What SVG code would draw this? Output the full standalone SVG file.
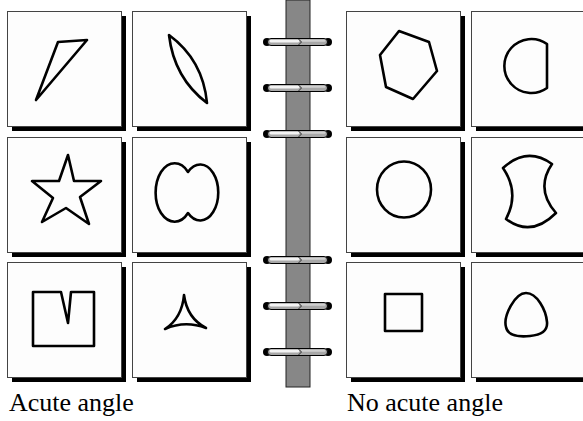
<svg xmlns="http://www.w3.org/2000/svg" width="583" height="421" viewBox="0 0 583 421">
<defs>
<style>
.shadow{fill:#000}
.card{fill:#fdfdfd;stroke:#444;stroke-width:1}
.fig{fill:none;stroke:#000;stroke-width:2.6;stroke-linejoin:round;stroke-linecap:round}
.lbl{font-family:"Liberation Serif","Times New Roman",serif;font-size:26px;fill:#000}
</style>
<g id="ring">
<circle cx="-30.5" cy="0" r="4" fill="#000"/>
<circle cx="30.5" cy="0" r="4" fill="#000"/>
<rect x="-30" y="-3.5" width="60" height="7" rx="3.5" fill="#a8a8a8" stroke="#000" stroke-width="1"/>
<rect x="-28" y="-2.3" width="30" height="2.8" rx="1.4" fill="#f4f4f4"/>
<rect x="3" y="-2.3" width="25" height="2" rx="1" fill="#d0d0d0"/>
<path d="M1,-3 L4,0 L1,3" fill="none" stroke="#333" stroke-width="1"/>
</g>
</defs>
<rect width="583" height="421" fill="#fff"/>

<g id="spine">
<rect x="286" y="0" width="24" height="387" fill="#878787" stroke="#222" stroke-width="1"/>
</g>

<g id="connectors">
<use href="#ring" x="297.5" y="42"/>
<use href="#ring" x="297.5" y="88"/>
<use href="#ring" x="297.5" y="134"/>
<use href="#ring" x="297.5" y="260"/>
<use href="#ring" x="297.5" y="306"/>
<use href="#ring" x="297.5" y="352"/>
</g>

<g id="p-triangle">
<rect class="shadow" x="12" y="16" width="114" height="115"/>
<rect class="card" x="7.5" y="11.5" width="114" height="115"/>
<path class="fig" d="M36,100 L58,42 L87,40 Z"/>
</g>
<g id="p-lens">
<rect class="shadow" x="137" y="16" width="114" height="115"/>
<rect class="card" x="132.5" y="11.5" width="114" height="115"/>
<path class="fig" d="M169,35 Q174,78 207,103 Q203,60 169,35 Z"/>
</g>
<g id="p-hexagon">
<rect class="shadow" x="351" y="16" width="114" height="115"/>
<rect class="card" x="346.5" y="11.5" width="114" height="115"/>
<path class="fig" d="M399,31 L429,42 L437,71 L413,99 L386,87 L380,55 Z"/>
</g>
<g id="p-dshape">
<rect class="shadow" x="476" y="16" width="114" height="115"/>
<rect class="card" x="471.5" y="11.5" width="114" height="115"/>
<path class="fig" d="M547,44 A27 27 0 1 0 547,88 Z"/>
</g>

<g id="p-star">
<rect class="shadow" x="12" y="142" width="114" height="115"/>
<rect class="card" x="7.5" y="137.5" width="114" height="115"/>
<path class="fig" d="M68,155 L74,181 L101,181 L80,197 L89,224 L66,208 L42,222 L53,198 L32,181 L59,181 Z"/>
</g>
<g id="p-eight">
<rect class="shadow" x="137" y="142" width="114" height="115"/>
<rect class="card" x="132.5" y="137.5" width="114" height="115"/>
<path class="fig" d="M188,172 A19 29 0 1 0 188,213 A18 28 0 1 0 188,172 Z"/>
</g>
<g id="p-circle">
<rect class="shadow" x="351" y="142" width="114" height="115"/>
<rect class="card" x="346.5" y="137.5" width="114" height="115"/>
<ellipse class="fig" cx="404" cy="189.5" rx="27" ry="28"/>
</g>
<g id="p-barrel">
<rect class="shadow" x="476" y="142" width="114" height="115"/>
<rect class="card" x="471.5" y="137.5" width="114" height="115"/>
<path class="fig" d="M503,168 Q527,146 552,164 Q535,189 556,213 Q531,238 506,219 Q520,193 503,168 Z"/>
</g>

<g id="p-notched">
<rect class="shadow" x="12" y="267" width="114" height="115"/>
<rect class="card" x="7.5" y="262.5" width="114" height="115"/>
<path class="fig" d="M33,292 L61,292 L68,323 L71,292 L94,292 L94,346 L33,346 Z"/>
</g>
<g id="p-deltoid">
<rect class="shadow" x="137" y="267" width="114" height="115"/>
<rect class="card" x="132.5" y="262.5" width="114" height="115"/>
<path class="fig" d="M184,295 Q182,318 165,329 Q185,320 206,328 Q187,318 184,295 Z"/>
</g>
<g id="p-square">
<rect class="shadow" x="351" y="267" width="114" height="115"/>
<rect class="card" x="346.5" y="262.5" width="114" height="115"/>
<rect class="fig" x="385" y="294" width="37" height="37"/>
</g>
<g id="p-rounded">
<rect class="shadow" x="476" y="267" width="114" height="115"/>
<rect class="card" x="471.5" y="262.5" width="114" height="115"/>
<path class="fig" d="M526,293 C515,293 503,316 506,327 C508,337 520,337 530,336 C540,335 548,332 547,322 C546,310 537,293 526,293 Z"/>
</g>

<text class="lbl" x="9" y="411">Acute angle</text>
<text class="lbl" x="347" y="411">No acute angle</text>
</svg>
